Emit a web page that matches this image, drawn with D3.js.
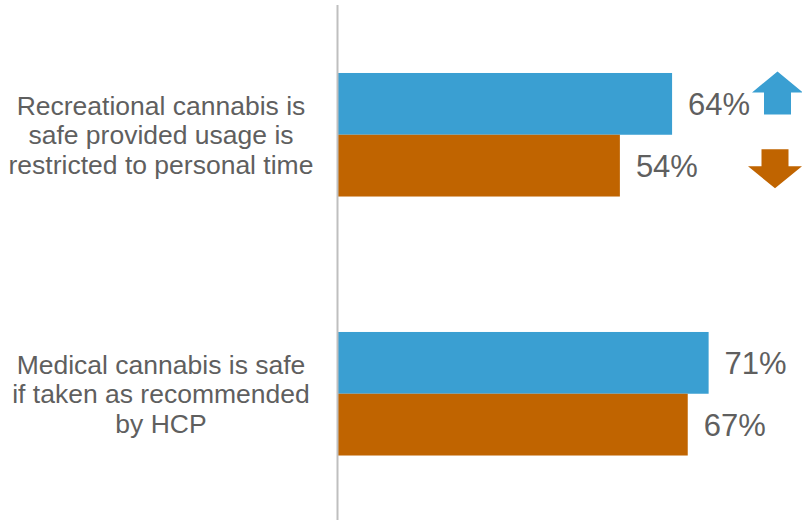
<!DOCTYPE html>
<html lang="en">
<head>
<meta charset="UTF-8">
<title>Cannabis safety</title>
<script src="https://cdnjs.cloudflare.com/ajax/libs/d3/7.8.5/d3.min.js"></script>
<style>
    body { margin: 0; background: #fff; }
    svg text { font-family: "Liberation Sans", Arial, sans-serif; fill: #5f5f5f; }
</style>
</head>
<body>
<div id="chart"></div>
<script>
    var categories = ["Recreational cannabis is safe provided usage is restricted to personal time",
                      "Medical cannabis is safe if taken as recommended by HCP"];
    var labelLines = [["Recreational cannabis is", "safe provided usage is", "restricted to personal time"],
                      ["Medical cannabis is safe", "if taken as recommended", "by HCP"]];
    var series = ["current", "previous"];
    var currentValues = [64, 71];
    var previousValues = [54, 67];
    var trends = ["change", "none"];   // arrows shown for first statement only

    var colors = {current: "#3a9fd2", previous: "#c06400"};

    var width = 802, height = 520;
    var axisX = 338;

    var svg = d3.select("#chart").append("svg")
        .attr("width", width)
        .attr("height", height);

    var x = d3.scaleLinear().domain([0, 100]).range([axisX, axisX + 522]);

    var y0 = d3.scaleBand()
        .domain(categories)
        .range([5, 523.5])
        .paddingInner(0.523)
        .paddingOuter(0.2625);

    var y1 = d3.scaleBand()
        .domain(series)
        .range([0, y0.bandwidth()]);

    var rows = categories.map(function (c, i) {
        return {cat: c, lines: labelLines[i], trend: trends[i],
                values: [{s: "current", v: currentValues[i]}, {s: "previous", v: previousValues[i]}]};
    });

    var g = svg.selectAll(".grp")
        .data(rows)
        .enter().append("g")
        .attr("class", "grp")
        .attr("transform", function (d) { return "translate(0," + y0(d.cat) + ")"; });

    g.selectAll("rect")
        .data(function (d) { return d.values; })
        .enter().append("rect")
        .attr("x", x(0))
        .attr("y", function (d) { return y1(d.s); })
        .attr("width", function (d) { return x(d.v) - x(0); })
        .attr("height", y1.bandwidth())
        .attr("fill", function (d) { return colors[d.s]; });

    g.selectAll(".val")
        .data(function (d) { return d.values; })
        .enter().append("text")
        .attr("class", "val")
        .attr("x", function (d) { return x(d.v) + 16; })
        .attr("y", function (d) { return y1(d.s) + y1.bandwidth() / 2; })
        .attr("dy", "0.36em")
        .style("font-size", "31px")
        .text(function (d) { return d.v + "%"; });

    // category labels
    g.append("text")
        .attr("text-anchor", "middle")
        .style("font-size", "26.5px")
        .selectAll("tspan")
        .data(function (d) { return d.lines; })
        .enter().append("tspan")
        .attr("x", 161)
        .attr("y", function (d, i) { return y0.bandwidth() / 2 + (i - 1) * 29.5; })
        .attr("dy", "0.36em")
        .text(function (d) { return d; });

    // trend arrows
    var arrowG = g.filter(function (d) { return d.trend === "change"; });
    arrowG.append("path")
        .attr("fill", colors.current)
        .attr("d", function () {
            var cx = 777.5, top = y1("current") - 1.5, hw = 25.5, sw = 13.5;
            return "M" + cx + "," + top +
                "L" + (cx + hw) + "," + (top + 21) +
                "L" + (cx + sw) + "," + (top + 21) +
                "L" + (cx + sw) + "," + (top + 43) +
                "L" + (cx - sw) + "," + (top + 43) +
                "L" + (cx - sw) + "," + (top + 21) +
                "L" + (cx - hw) + "," + (top + 21) + "Z";
        });
    arrowG.append("path")
        .attr("fill", colors.previous)
        .attr("d", function () {
            var cx = 775, top = y1("previous") + 14.5, hw = 27, sw = 13.5;
            return "M" + (cx - sw) + "," + top +
                "L" + (cx + sw) + "," + top +
                "L" + (cx + sw) + "," + (top + 17) +
                "L" + (cx + hw) + "," + (top + 17) +
                "L" + cx + "," + (top + 39) +
                "L" + (cx - hw) + "," + (top + 17) +
                "L" + (cx - sw) + "," + (top + 17) + "Z";
        });

    // vertical axis line
    svg.append("line")
        .attr("x1", axisX - 0.5).attr("x2", axisX - 0.5)
        .attr("y1", 5).attr("y2", height)
        .attr("stroke", "#bfbfbf")
        .attr("stroke-width", 2);
</script>
</body>
</html>
